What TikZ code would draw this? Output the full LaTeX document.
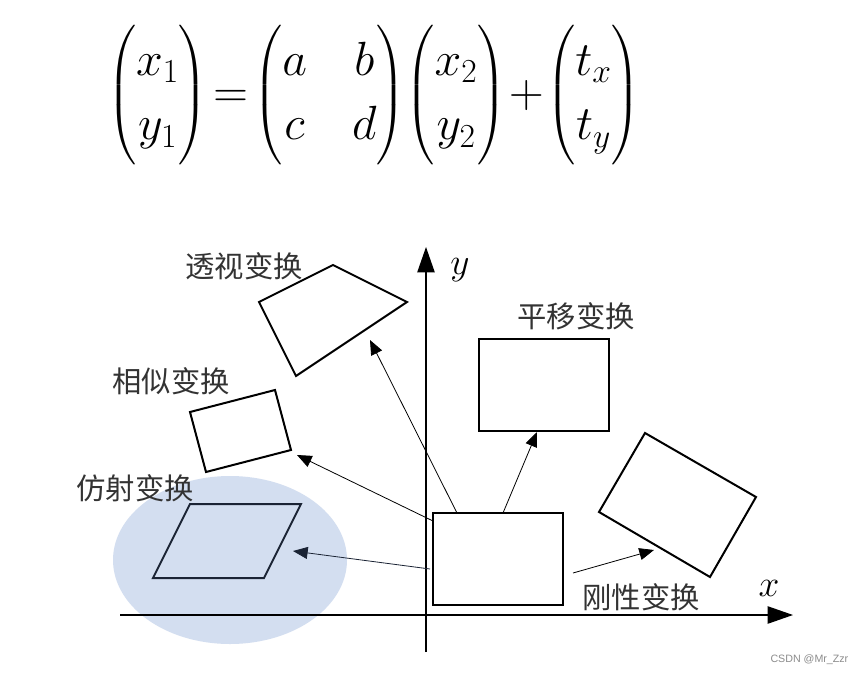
\documentclass[tikz,border=0pt]{standalone}
\usepackage{fix-cm}
\usepackage{amsmath}
\usepackage{fontspec}
\usepackage{xcolor}
\usetikzlibrary{arrows.meta}
\newfontfamily\cjk{Noto Sans CJK SC}
\newfontfamily\wmfont{Liberation Sans}
\definecolor{blob}{RGB}{211,222,240}
\definecolor{navy}{RGB}{26,35,52}
\definecolor{muted}{RGB}{140,140,140}
\tikzset{
  shapeline/.style={black, line width=1.5pt, line join=miter},
  link/.style={black, line width=0.6pt, -{Triangle[length=11pt, width=9pt]}},
  axis/.style={black, line width=0.9pt, -{Triangle[length=19pt, width=13pt]}},
  tlabel/.style={font=\cjk\fontsize{22}{24}\selectfont, text=black!80},
  alabel/.style={font=\fontsize{28}{30}\selectfont}
}

\begin{document}
\begin{tikzpicture}[x=0.75pt, y=-0.75pt]
  \useasboundingbox (0,0) rectangle (868,675);
  \fill[white] (0,0) rectangle (868,675);
  % formula
  \node[font=\fontsize{36}{43}\selectfont, inner sep=0pt] (eq) at (374,95)
    {\renewcommand{\arraystretch}{1.12}\setlength{\arraycolsep}{4pt}$\begin{pmatrix} x_1\\ y_1\end{pmatrix}\!=\!\begin{pmatrix} a & \hspace{26pt} b\\ c & \hspace{26pt} d\end{pmatrix}\!\begin{pmatrix} x_2\\ y_2\end{pmatrix}\!+\!\begin{pmatrix} t_x\\ t_y\end{pmatrix}$};
  % affine blob
  \fill[blob] (230,560) ellipse [x radius=117, y radius=84];
  % axes
  \coordinate (xs) at (120,615);
  \coordinate (xe) at (793,615);
  \coordinate (ys) at (426,652);
  \coordinate (ye) at (426,247);
  \draw[axis] (xs) -- (xe);
  \draw[axis] (ys) -- (ye);
  \node[alabel, anchor=center] (xl) at (769,588) {$x$};
  \node[alabel, anchor=center] (yl) at (460,270) {$y$};
  % source
  \draw[shapeline] (433,513) rectangle (563,605);
  % translation
  \draw[shapeline] (479,339) rectangle (609,431);
  % rigid
  \draw[shapeline] (645,433) -- (756,497) -- (710,577) -- (599,512) -- cycle;
  % perspective
  \draw[shapeline] (259,302) -- (333,265) -- (407,302) -- (296,376) -- cycle;
  % similarity
  \draw[shapeline] (190,412) -- (275,390) -- (291,450) -- (206,472) -- cycle;
  % affine
  \draw[shapeline, navy] (190,504) -- (301,504) -- (264,578) -- (153,578) -- cycle;
  % labels
  \node[tlabel] (tper) at (244,266) {透视变换};
  \node[tlabel] (tsim) at (171,381) {相似变换};
  \node[tlabel] (taff) at (135,488) {仿射变换};
  \node[tlabel] (ttra) at (576,316) {平移变换};
  \node[tlabel] (trig) at (641,597) {刚性变换};
  % arrows
  \coordinate (sper) at (457,513);
  \coordinate (eper) at (370,340);
  \coordinate (ssim) at (433,521);
  \coordinate (esim) at (297,455);
  \coordinate (saff) at (430,569);
  \coordinate (eaff) at (293,551);
  \coordinate (stra) at (503,513);
  \coordinate (etra) at (537,432);
  \coordinate (srig) at (573,573);
  \coordinate (erig) at (654,550);
  \draw[link] (sper) -- (eper);
  \draw[link] (ssim) -- (esim);
  \draw[link, navy] (saff) -- (eaff);
  \draw[link] (stra) -- (etra);
  \draw[link] (srig) -- (erig);
  \node[anchor=east, text=muted, font=\wmfont\fontsize{8}{9}\selectfont] (wm) at (853,660) {CSDN @Mr\_Zzr};
\end{tikzpicture}
\end{document}
